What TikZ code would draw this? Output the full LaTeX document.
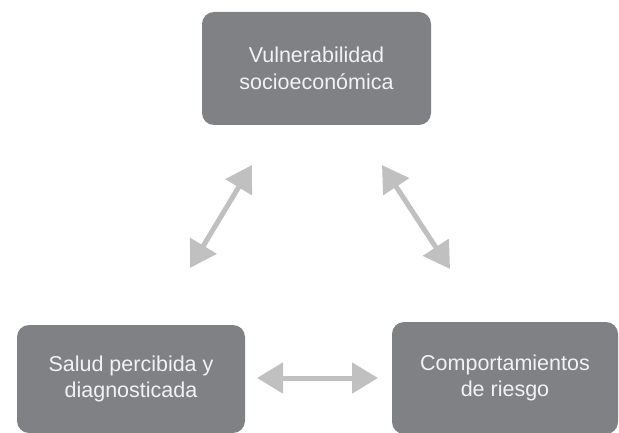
\documentclass[tikz,border=0pt]{standalone}
\usepackage{fontspec}
\setmainfont{Liberation Sans}
\usetikzlibrary{arrows.meta}
\definecolor{boxgray}{RGB}{128,129,133}
\definecolor{arrowgray}{RGB}{192,192,192}

\begin{document}
\begin{tikzpicture}[x=1pt, y=-1pt,
    factor/.style={rectangle, rounded corners=12pt, fill=boxgray, text=white!95!black,
      align=center, inner sep=0pt, font=\fontsize{21.5}{26.5}\selectfont},
    link/.style={{Triangle[length=26pt,width=30pt]}-{Triangle[length=26pt,width=30pt]},
      line width=5pt, arrowgray}]
    \useasboundingbox (0,0) rectangle (619,433);
    % nodes %
    \node[factor, minimum width=229, minimum height=113] (vul) at (316.5,68.5) {Vulnerabilidad\\socioeconómica};
    \node[factor, minimum width=228, minimum height=108] (sal) at (131,379) {Salud percibida y\\diagnosticada};
    \node[factor, minimum width=226, minimum height=112] (com) at (505,378) {Comportamientos\\de riesgo};
    % arrow ends %
    \coordinate (vs1) at (252,165);
    \coordinate (vs2) at (190,268);
    \coordinate (vc1) at (382,165);
    \coordinate (vc2) at (450,269);
    \coordinate (sc1) at (257,378);
    \coordinate (sc2) at (378,378);
    % edges %
    \draw[link] (vs1) -- (vs2);
    \draw[link] (vc1) -- (vc2);
    \draw[link] (sc1) -- (sc2);
\end{tikzpicture}
\end{document}
